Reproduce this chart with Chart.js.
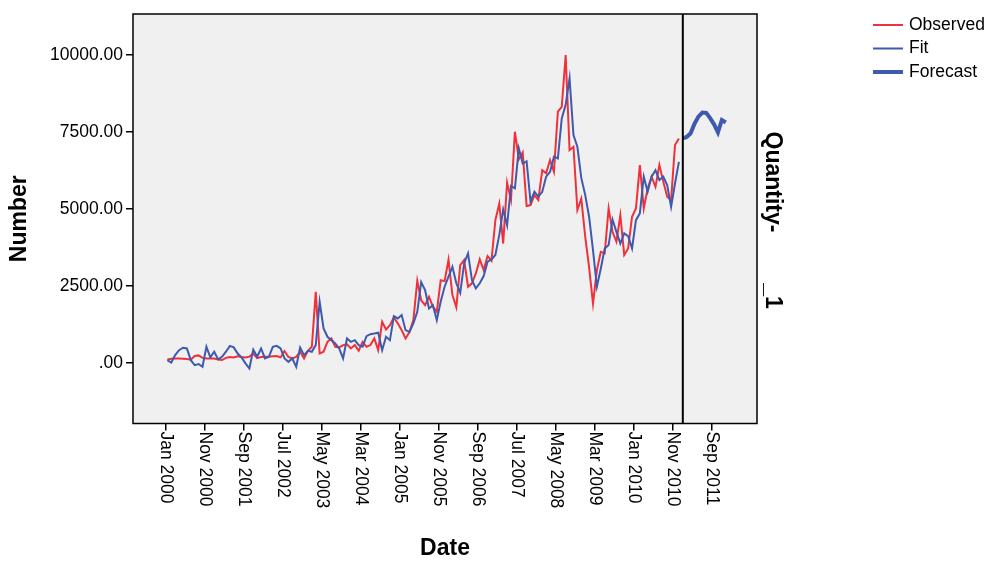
<!DOCTYPE html>
<html>
<head>
<meta charset="utf-8">
<script src="https://cdn.jsdelivr.net/npm/chart.js@4.4.1/dist/chart.umd.min.js"></script>
<style>
  html, body { margin: 0; padding: 0; background: #ffffff; }
</style>
</head>
<body>
<canvas id="forecastChart" width="989" height="561"></canvas>
<script>
// monthly series, index 0 = Jan 2000
const observed = [
    110, 130, 140, 140, 130, 120, 100, 220, 240, 160,
    140, 140, 140, 110, 90, 160, 190, 175, 215, 190,
    175, 200, 300, 150, 190, 200, 200, 210, 220, 175,
    380, 190, 140, 190, 357, 140, 390, 520, 2300, 300,
    360, 680, 790, 520, 500, 575, 600, 465, 575, 390,
    680, 520, 575, 790, 410, 1330, 1080, 1220, 1470, 1280,
    1060, 790, 1000, 1385, 2660, 2030, 1870, 2140, 1820, 1650,
    2680, 2650, 3350, 2200, 1800, 3170, 3335, 2470, 2580, 2900,
    3357, 3010, 3465, 3310, 4630, 5170, 3870, 5850, 5280, 7500,
    6600, 6830, 5090, 5120, 5440, 5280, 6250, 6150, 6580, 6200,
    8150, 8310, 9990, 6900, 7010, 4960, 5330, 4100, 3100, 1925,
    3010, 3600, 3550, 5010, 4250, 3930, 4790, 3500, 3710, 4740,
    5010, 6420, 5010, 5660, 6040, 5710, 6420, 5880, 5390, 5280, 7070, 7280
];

const fit = [
    85, 10, 250, 410, 490, 465, 85, -75, -40, -130,
    520, 175, 360, 110, 195, 360, 550, 500, 300, 175,
    -20, -185, 430, 195, 465, 140, 195, 520, 550, 465,
    140, 30, 140, -130, 495, 250, 390, 357, 575, 1980,
    1115, 845, 735, 630, 465, 140, 790, 680, 735, 575,
    520, 865, 930, 950, 975, 410, 845, 735, 1515, 1440,
    1550, 1060, 1000, 1280, 1655, 2620, 2360, 1765, 1870, 1385,
    1990, 2470, 2800, 3117, 2580, 2270, 3225, 3550, 2685, 2415,
    2580, 2815, 3280, 3357, 3500, 4150, 4980, 4460, 5740, 5660,
    6960, 6470, 6540, 5230, 5550, 5390, 5550, 6040, 6200, 6690,
    6630, 7930, 8370, 9230, 7390, 7010, 6000, 5450, 4740, 3660,
    2470, 3060, 3710, 3820, 4650, 4250, 3870, 4200, 4110, 3710,
    4630, 4850, 6040, 5550, 6040, 6250, 5930, 6040, 5770, 5060, 5820, 6520
];

// Jan 2011 - Dec 2011
const forecast = [7280, 7330, 7450, 7760, 7990, 8120, 8110, 7940, 7740, 7480, 7880, 7800];
const forecastStartIndex = 132;

const xTickMonths = [0, 10, 20, 30, 40, 50, 60, 70, 80, 90, 100, 110, 120, 130, 140];
const xTickLabels = ['Jan 2000', 'Nov 2000', 'Sep 2001', 'Jul 2002', 'May 2003', 'Mar 2004', 'Jan 2005',
    'Nov 2005', 'Sep 2006', 'Jul 2007', 'May 2008', 'Mar 2009', 'Jan 2010', 'Nov 2010', 'Sep 2011'];
const yTicks = [0, 2500, 5000, 7500, 10000];
const yTickLabels = ['.00', '2500.00', '5000.00', '7500.00', '10000.00'];

const legendItems = [
    { label: 'Observed', color: '#f0303a', width: 2 },
    { label: 'Fit', color: '#3d5aae', width: 2 },
    { label: 'Forecast', color: '#3d5aae', width: 4 }
];

const FONT = "'Liberation Sans', Arial, sans-serif";

// points sit in the middle of their month
function toPoints(values, startIndex) {
    return values.map((v, i) => ({ x: startIndex + i + 0.5, y: v }));
}

const panelPlugin = {
    id: 'panelPlugin',
    beforeDatasetsDraw(chart) {
        const { ctx, chartArea } = chart;
        ctx.save();
        ctx.fillStyle = '#f0f0f0';
        ctx.fillRect(chartArea.left, chartArea.top, chartArea.right - chartArea.left, chartArea.bottom - chartArea.top);
        ctx.restore();
    },
    afterDatasetsDraw(chart) {
        const { ctx, chartArea, scales } = chart;
        ctx.save();
        // forecast divider
        const xv = scales.x.getPixelForValue(forecastStartIndex + 0.5);
        ctx.strokeStyle = '#000';
        ctx.lineWidth = 2;
        ctx.beginPath();
        ctx.moveTo(xv, chartArea.top);
        ctx.lineTo(xv, chartArea.bottom);
        ctx.stroke();
        // frame
        ctx.lineWidth = 1.5;
        ctx.strokeRect(chartArea.left, chartArea.top, chartArea.right - chartArea.left, chartArea.bottom - chartArea.top);
        ctx.restore();
    },
    afterDraw(chart) {
        const { ctx, chartArea, scales } = chart;
        ctx.save();
        ctx.fillStyle = '#000';

        // x tick labels, reading top to bottom
        ctx.font = '17.5px ' + FONT;
        ctx.textAlign = 'left';
        ctx.textBaseline = 'middle';
        xTickMonths.forEach((m, i) => {
            const px = scales.x.getPixelForValue(m);
            ctx.save();
            ctx.translate(px, chartArea.bottom + 8);
            ctx.rotate(Math.PI / 2);
            ctx.fillText(xTickLabels[i], 0, 0);
            ctx.restore();
        });

        // axis titles
        ctx.font = 'bold 23px ' + FONT;
        ctx.textAlign = 'center';
        ctx.fillText('Date', (chartArea.left + chartArea.right) / 2, 549);
        ctx.save();
        ctx.translate(20, (chartArea.top + chartArea.bottom) / 2);
        ctx.rotate(-Math.PI / 2);
        ctx.fillText('Number', 0, 0);
        ctx.restore();

        // panel label on the right
        ctx.save();
        ctx.translate(772, 182);
        ctx.rotate(Math.PI / 2);
        ctx.fillText('Quantity-', 0, 0);
        ctx.restore();
        ctx.save();
        ctx.translate(772, 296);
        ctx.rotate(Math.PI / 2);
        ctx.fillText('_1', 0, 0);
        ctx.restore();

        // legend
        ctx.font = '17.5px ' + FONT;
        ctx.textAlign = 'left';
        legendItems.forEach((item, i) => {
            const y = 25 + i * 23.5;
            ctx.strokeStyle = item.color;
            ctx.lineWidth = item.width;
            ctx.beginPath();
            ctx.moveTo(873, y);
            ctx.lineTo(903, y);
            ctx.stroke();
            ctx.fillText(item.label, 909, y);
        });
        ctx.restore();
    }
};

const chart = new Chart(document.getElementById('forecastChart'), {
    type: 'line',
    data: {
        datasets: [
            {
                label: 'Fit',
                data: toPoints(fit, 0),
                borderColor: '#3d5aae',
                borderWidth: 2,
                order: 1
            },
            {
                label: 'Observed',
                data: toPoints(observed, 0),
                borderColor: '#f0303a',
                borderWidth: 2,
                order: 2
            },
            {
                label: 'Forecast',
                data: toPoints(forecast, forecastStartIndex),
                borderColor: '#3d5aae',
                borderWidth: 4,
                order: 0
            }
        ]
    },
    options: {
        responsive: false,
        animation: false,
        devicePixelRatio: 1,
        layout: {
            padding: { top: 14, right: 232, bottom: 0, left: 0 }
        },
        elements: {
            point: { radius: 0 },
            line: { tension: 0, fill: false }
        },
        scales: {
            x: {
                type: 'linear',
                min: -8.3,
                max: 151.5,
                afterBuildTicks: axis => {
                    axis.ticks = xTickMonths.map(v => ({ value: v }));
                },
                afterFit: scale => {
                    scale.height = 137.5;
                },
                ticks: { display: false },
                grid: {
                    drawOnChartArea: false,
                    drawTicks: true,
                    tickLength: 7,
                    color: '#000',
                    lineWidth: 1.5
                },
                border: { display: false }
            },
            y: {
                type: 'linear',
                min: -1970,
                max: 11320,
                afterBuildTicks: axis => {
                    axis.ticks = yTicks.map(v => ({ value: v }));
                },
                afterFit: scale => {
                    scale.width = 133;
                },
                ticks: {
                    color: '#000',
                    padding: 3,
                    font: { family: FONT, size: 17.5 },
                    callback: (value) => yTickLabels[yTicks.indexOf(value)]
                },
                grid: {
                    drawOnChartArea: false,
                    drawTicks: true,
                    tickLength: 7,
                    color: '#000',
                    lineWidth: 1.5
                },
                border: { display: false }
            }
        },
        plugins: {
            legend: { display: false },
            tooltip: { enabled: false }
        }
    },
    plugins: [panelPlugin]
});
</script>
</body>
</html>
